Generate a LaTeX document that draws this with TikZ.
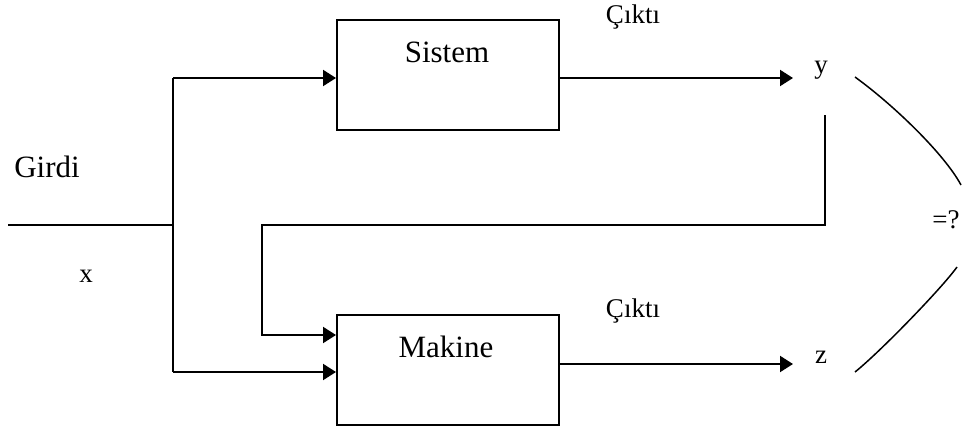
\documentclass[tikz,border=0pt]{standalone}
\usepackage{fontspec}
\setmainfont{Liberation Serif}
\usetikzlibrary{arrows.meta}
\begin{document}
\begin{tikzpicture}[x=1pt,y=-1pt,
  blockbox/.style={draw,line width=2pt,minimum width=222pt,minimum height=110pt,inner sep=0pt},
  bigtext/.style={anchor=base,inner sep=0pt,font=\fontsize{31}{36}\selectfont},
  smalltext/.style={anchor=base,inner sep=0pt,font=\fontsize{27}{32}\selectfont},
  wire/.style={line width=2pt},
  feed/.style={wire,-{Triangle[length=13pt,width=16pt]}},
  bracket/.style={line width=1.5pt}]
\useasboundingbox (0,0) rectangle (962,429);

% blocks
\node[blockbox] (sys) at (448,75) {};
\node[blockbox] (mak) at (448,370) {};
\node[bigtext] (sysname) at (447,62) {Sistem};
\node[bigtext] (makname) at (446,357) {Makine};

% input and its split
\coordinate (in) at (8,225);
\coordinate (split) at (173,225);
\coordinate (st) at (173,78);
\coordinate (sb) at (173,372);
\draw[wire] (in) -- (split);
\draw[wire] (st) -- (sb);
\draw[feed] (st) -- (sys.west |- st);
\draw[feed] (sb) -- (mak.west |- sb);

% outputs
\coordinate (yend) at (793,78);
\coordinate (zend) at (793,364);
\draw[feed] (sys.east |- yend) -- (yend);
\draw[feed] (mak.east |- zend) -- (zend);

% feedback of y into the machine
\coordinate (fbtop) at (825,115);
\coordinate (fbin) at (262,335);
\draw[feed] (fbtop) -- (825,225) -- (262,225) -- (fbin) -- (mak.west |- fbin);

% labels
\node[bigtext] (girdi) at (47,177) {Girdi};
\node[smalltext] (xlab) at (86,282) {x};
\node[smalltext] (cik1) at (633,23) {Çıktı};
\node[smalltext] (cik2) at (633,317) {Çıktı};
\node[smalltext] (ylab) at (821,73) {y};
\node[smalltext] (zlab) at (821,363) {z};
\node[smalltext] (eq) at (946,228) {=?};

% comparison bracket
\draw[bracket] (855,77) .. controls (895,106) and (945,155) .. (961,185);
\draw[bracket] (957,267) .. controls (942,288) and (880,352) .. (855,372);
\end{tikzpicture}
\end{document}
